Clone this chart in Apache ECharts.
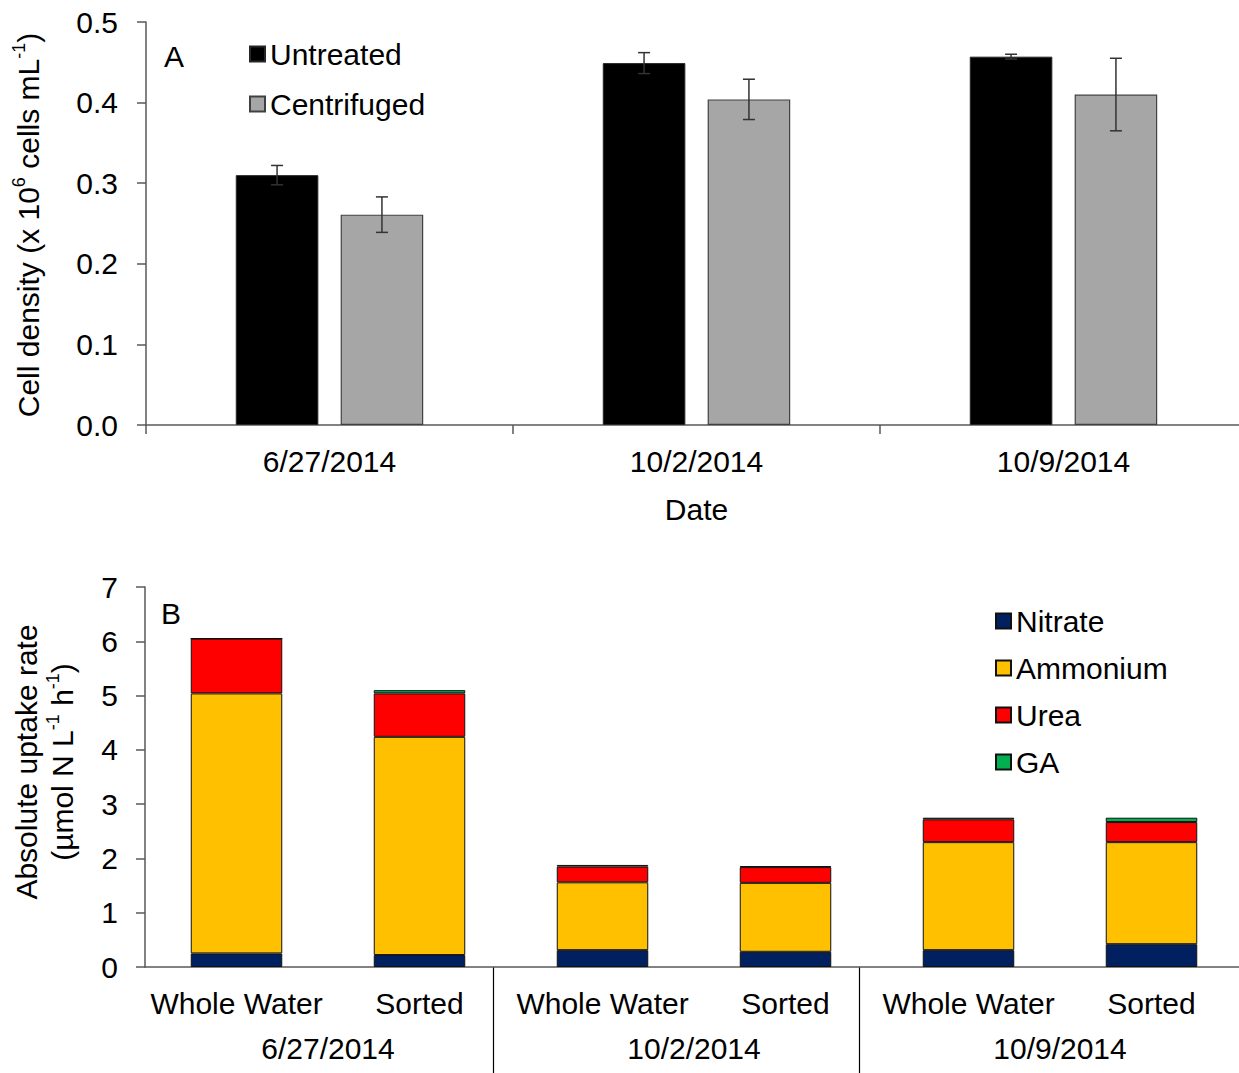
<!DOCTYPE html>
<html>
<head>
<meta charset="utf-8">
<title>Cell density and nitrogen uptake</title>
<script src="https://cdn.jsdelivr.net/npm/echarts@6/dist/echarts.min.js"></script>
<style>
  html, body { margin: 0; padding: 0; background: #fff; }
  #chart { width: 1239px; height: 1073px; }
</style>
</head>
<body>
<div id="chart"></div>
<script>
// ---- Panel A: cell density (x 10^6 cells mL^-1) ----
const dates = ['6/27/2014', '10/2/2014', '10/9/2014'];
const untreated = [0.310, 0.449, 0.457];
const untreatedErr = [0.012, 0.013, 0.003];
const centrifuged = [0.261, 0.404, 0.410];
const centrifugedErr = [0.022, 0.025, 0.045];
const cellTicks = { min: 0, max: 0.5, interval: 0.1 };

// ---- Panel B: absolute uptake rate (umol N L^-1 h^-1) ----
const treatments = ['Whole Water', 'Sorted', 'Whole Water', 'Sorted', 'Whole Water', 'Sorted'];
const nitrate = [0.25, 0.22, 0.31, 0.28, 0.31, 0.42];
const ammonium = [4.79, 4.02, 1.25, 1.27, 1.99, 1.88];
const urea = [1.01, 0.80, 0.29, 0.29, 0.42, 0.37];
const ga = [0.00, 0.06, 0.03, 0.02, 0.03, 0.08];
const uptakeTicks = { min: 0, max: 7, interval: 1 };

const FONT = '"Liberation Sans", Arial, sans-serif';
const FS = 30;
const AXIS_GREY = '#595959';
const BAR_W = 0.225;   // bar width as fraction of a date band (panel A)
const BAR_GAP = 0.27;  // gap between paired bars as fraction of bar width
const SEP_SHIFT = 0.1; // group separators sit slightly left of the band edge

const chart = echarts.init(document.getElementById('chart'), null, { renderer: 'svg' });

const errData = (vals, errs) => vals.map((v, i) => [i, v - errs[i], v + errs[i]]);

function errorBars(side) {
  return function (params, api) {
    const i = api.value(0);
    const lo = api.coord([i, api.value(1)]);
    const hi = api.coord([i, api.value(2)]);
    const band = api.size([1, 0])[0];
    const bw = band * BAR_W;
    const x = lo[0] + side * bw * (1 + BAR_GAP) / 2;
    const cap = 6;
    const st = { stroke: '#333', lineWidth: 1.5 };
    return {
      type: 'group',
      children: [
        { type: 'line', shape: { x1: x, y1: lo[1], x2: x, y2: hi[1] }, style: st },
        { type: 'line', shape: { x1: x - cap, y1: lo[1], x2: x + cap, y2: lo[1] }, style: st },
        { type: 'line', shape: { x1: x - cap, y1: hi[1], x2: x + cap, y2: hi[1] }, style: st }
      ]
    };
  };
}

const axisLineStyle = { lineStyle: { color: AXIS_GREY, width: 1.5 } };
const labelStyle = { color: '#000', fontFamily: FONT, fontSize: FS };
const supRich = {
  n: { fontFamily: FONT, fontSize: FS, color: '#000', lineHeight: 36 },
  s: { fontFamily: FONT, fontSize: 18, color: '#000', lineHeight: 36, verticalAlign: 'top' }
};
const legendText = { fontFamily: FONT, fontSize: FS, color: '#000' };

const option = {
  animation: false,
  backgroundColor: '#fff',
  textStyle: { fontFamily: FONT },
  // both plot areas run a little past the right edge of the page
  grid: [
    { left: 146, width: 1101, top: 22, height: 403, containLabel: false, outerBoundsMode: 'none' },
    { left: 145, width: 1098, top: 587, height: 380, containLabel: false, outerBoundsMode: 'none' }
  ],
  legend: [
    {
      data: ['Untreated', 'Centrifuged'],
      orient: 'vertical', left: 249, top: 39, itemGap: 20, padding: 0,
      itemWidth: 15, itemHeight: 15, icon: 'rect', textStyle: legendText
    },
    {
      data: ['Nitrate', 'Ammonium', 'Urea', 'GA'],
      orient: 'vertical', left: 995, top: 606, itemGap: 17, padding: 0,
      itemWidth: 15, itemHeight: 15, icon: 'rect', textStyle: legendText
    }
  ],
  xAxis: [
    {
      type: 'category', gridIndex: 0, data: dates,
      name: 'Date', nameLocation: 'middle', nameGap: 69,
      nameTextStyle: { fontFamily: FONT, fontSize: FS, color: '#000' },
      axisLine: axisLineStyle,
      axisTick: { show: true, length: 9, lineStyle: { color: AXIS_GREY, width: 1.5 } },
      axisLabel: Object.assign({ margin: 21 }, labelStyle)
    },
    {
      type: 'category', gridIndex: 1, data: treatments,
      axisLine: axisLineStyle,
      axisTick: { show: false },
      axisLabel: Object.assign({ margin: 21, interval: 0 }, labelStyle)
    },
    {
      type: 'category', gridIndex: 1, data: dates, position: 'bottom',
      axisLine: { show: false },
      axisTick: { show: false },
      axisLabel: Object.assign({ margin: 66, interval: 0 }, labelStyle)
    }
  ],
  yAxis: [
    {
      type: 'value', gridIndex: 0,
      min: cellTicks.min, max: cellTicks.max, interval: cellTicks.interval,
      axisLine: Object.assign({ show: true }, axisLineStyle),
      axisTick: { show: true, length: 9, lineStyle: { color: AXIS_GREY, width: 1.5 } },
      splitLine: { show: false },
      axisLabel: Object.assign({ margin: 28, formatter: v => v.toFixed(1) }, labelStyle)
    },
    {
      type: 'value', gridIndex: 1,
      min: uptakeTicks.min, max: uptakeTicks.max, interval: uptakeTicks.interval,
      axisLine: Object.assign({ show: true }, axisLineStyle),
      axisTick: { show: true, length: 9, lineStyle: { color: AXIS_GREY, width: 1.5 } },
      splitLine: { show: false },
      axisLabel: Object.assign({ margin: 27 }, labelStyle)
    }
  ],
  series: [
    {
      name: 'Untreated', type: 'bar', xAxisIndex: 0, yAxisIndex: 0,
      data: untreated, barWidth: (BAR_W * 100) + '%', barGap: (BAR_GAP * 100) + '%',
      itemStyle: { color: '#000', borderColor: '#262626', borderWidth: 1 }
    },
    {
      name: 'Centrifuged', type: 'bar', xAxisIndex: 0, yAxisIndex: 0,
      data: centrifuged, barWidth: (BAR_W * 100) + '%', barGap: (BAR_GAP * 100) + '%',
      itemStyle: { color: '#a6a6a6', borderColor: '#404040', borderWidth: 1.2 }
    },
    {
      type: 'custom', xAxisIndex: 0, yAxisIndex: 0, z: 5,
      renderItem: errorBars(-1), encode: { x: 0, y: [1, 2] },
      data: errData(untreated, untreatedErr), silent: true
    },
    {
      type: 'custom', xAxisIndex: 0, yAxisIndex: 0, z: 5,
      renderItem: errorBars(1), encode: { x: 0, y: [1, 2] },
      data: errData(centrifuged, centrifugedErr), silent: true
    },
    {
      name: 'Nitrate', type: 'bar', stack: 'n', xAxisIndex: 1, yAxisIndex: 1,
      data: nitrate, barWidth: '50%',
      itemStyle: { color: '#002060', borderColor: '#111', borderWidth: 1 }
    },
    {
      name: 'Ammonium', type: 'bar', stack: 'n', xAxisIndex: 1, yAxisIndex: 1,
      data: ammonium, barWidth: '50%',
      itemStyle: { color: '#ffc000', borderColor: '#111', borderWidth: 1 }
    },
    {
      name: 'Urea', type: 'bar', stack: 'n', xAxisIndex: 1, yAxisIndex: 1,
      data: urea, barWidth: '50%',
      itemStyle: { color: '#ff0000', borderColor: '#111', borderWidth: 1 }
    },
    {
      name: 'GA', type: 'bar', stack: 'n', xAxisIndex: 1, yAxisIndex: 1,
      data: ga, barWidth: '50%',
      itemStyle: { color: '#00b050', borderColor: '#111', borderWidth: 1 }
    }
  ],
  graphic: [
    {
      id: 'labelA', type: 'text', left: 164, top: 41,
      style: { text: 'A', fontFamily: FONT, fontSize: FS, fill: '#000' }
    },
    {
      id: 'labelB', type: 'text', left: 161, top: 598,
      style: { text: 'B', fontFamily: FONT, fontSize: FS, fill: '#000' }
    },
    {
      id: 'titleA', type: 'text', x: 28, y: 225, rotation: Math.PI / 2,
      style: {
        text: '{n|Cell density (x 10}{s|6}{n| cells mL}{s|-1}{n|)}',
        rich: supRich, align: 'center', verticalAlign: 'middle'
      }
    },
    {
      id: 'titleB', type: 'text', x: 44, y: 762, rotation: Math.PI / 2,
      style: {
        text: '{n|Absolute uptake rate}\n{n|(µmol N L}{s|-1}{n| h}{s|-1}{n|)}',
        rich: supRich, align: 'center', verticalAlign: 'middle'
      }
    }
  ]
};

chart.setOption(option);

// Group separators under the two-level category axis of panel B,
// one between each pair of date groups, running down to the page foot.
const [, yBase] = chart.convertToPixel({ xAxisIndex: 1, yAxisIndex: 1 }, [0, 0]);
const seps = [];
for (let g = 1; g < dates.length; g++) {
  const left = chart.convertToPixel({ xAxisIndex: 1 }, 2 * g - 1);
  const right = chart.convertToPixel({ xAxisIndex: 1 }, 2 * g);
  const band = right - left;
  const x = Math.round((left + right) / 2 - SEP_SHIFT * band) + 0.5;
  seps.push({
    id: 'sep' + g, type: 'line', silent: true,
    shape: { x1: x, y1: yBase, x2: x, y2: chart.getHeight() },
    style: { stroke: '#000', lineWidth: 1.2 }
  });
}
chart.setOption({ graphic: seps });
</script>
</body>
</html>
